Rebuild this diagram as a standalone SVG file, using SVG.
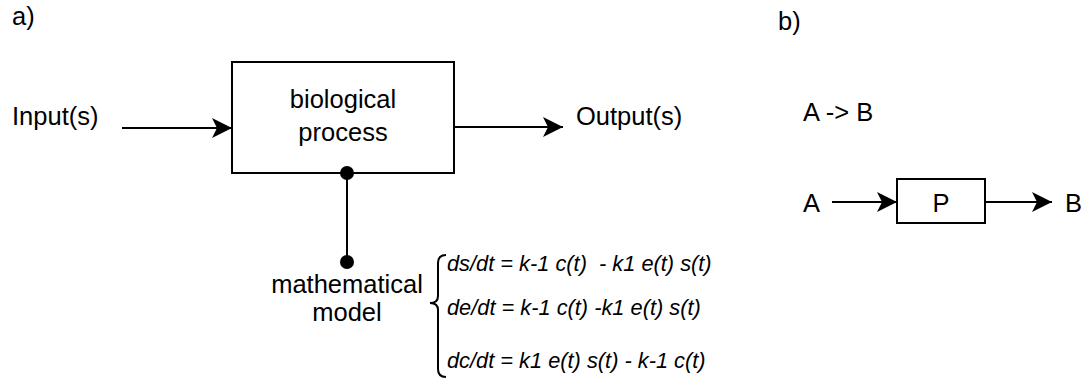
<svg xmlns="http://www.w3.org/2000/svg" width="1086" height="380" viewBox="0 0 1086 380">
  <style>
    .lbl { font-family: "Liberation Sans", Arial, Helvetica, sans-serif; font-size: 25.5px; fill: #000; }
    .eq { font-family: "Liberation Sans", Arial, Helvetica, sans-serif; font-size: 21.8px; font-style: italic; fill: #000; white-space: pre; }
    .box { fill: #fff; stroke: #000; stroke-width: 2; }
    .edge { fill: none; stroke: #000; stroke-width: 2; }
  </style>
  <defs>
    <marker id="arrow" markerUnits="userSpaceOnUse" viewBox="0 0 20 20" markerWidth="20" markerHeight="20" refX="20" refY="10" orient="auto">
      <path d="M0,0 L20,10 L0,20 L5,10 Z" fill="#000"/>
    </marker>
  </defs>
  <rect width="1086" height="380" fill="#fff"/>

  <!-- panel labels -->
  <text class="lbl" x="12" y="25">a)</text>
  <text class="lbl" x="778" y="30">b)</text>

  <!-- panel a -->
  <g id="input">
    <text class="lbl" x="12" y="125">Input(s)</text>
  </g>
  <g id="process">
    <rect class="box" x="232" y="62" width="222" height="111"/>
    <text class="lbl" x="343" y="108" text-anchor="middle">biological</text>
    <text class="lbl" x="343" y="141" text-anchor="middle">process</text>
  </g>
  <g id="output">
    <text class="lbl" x="576" y="125">Output(s)</text>
  </g>
  <g id="model">
    <text class="lbl" x="347" y="293" text-anchor="middle">mathematical</text>
    <text class="lbl" x="347" y="321" text-anchor="middle">model</text>
  </g>
  <g id="equations">
    <path class="edge" d="M446,255 Q438,255 438,263 L438,296 Q438,303 430,303 Q438,303 438,310 L438,369 Q438,377 446,377"/>
    <text class="eq" x="447" y="271">ds/dt = k-1 c(t)  - k1 e(t) s(t)</text>
    <text class="eq" x="447" y="315">de/dt = k-1 c(t) -k1 e(t) s(t)</text>
    <text class="eq" x="447" y="368">dc/dt = k1 e(t) s(t) - k-1 c(t)</text>
  </g>

  <!-- panel b -->
  <g id="reaction">
    <text class="lbl" x="803" y="121">A -&gt; B</text>
  </g>
  <g id="node-a">
    <text class="lbl" x="803" y="212">A</text>
  </g>
  <g id="node-p">
    <rect class="box" x="897" y="179" width="88" height="44"/>
    <text class="lbl" x="941" y="212" text-anchor="middle">P</text>
  </g>
  <g id="node-b">
    <text class="lbl" x="1065" y="212">B</text>
  </g>

  <!-- connectors, drawn over the node boxes -->
  <g id="connectors">
    <line class="edge" x1="122" y1="128" x2="232" y2="128" marker-end="url(#arrow)"/>
    <line class="edge" x1="454" y1="127" x2="563" y2="127" marker-end="url(#arrow)"/>
    <line class="edge" x1="347" y1="173" x2="347" y2="262"/>
    <circle cx="347" cy="173" r="7" fill="#000"/>
    <circle cx="347" cy="262" r="7" fill="#000"/>
    <line class="edge" x1="832" y1="202" x2="897" y2="202" marker-end="url(#arrow)"/>
    <line class="edge" x1="985" y1="202" x2="1052" y2="202" marker-end="url(#arrow)"/>
  </g>
</svg>
